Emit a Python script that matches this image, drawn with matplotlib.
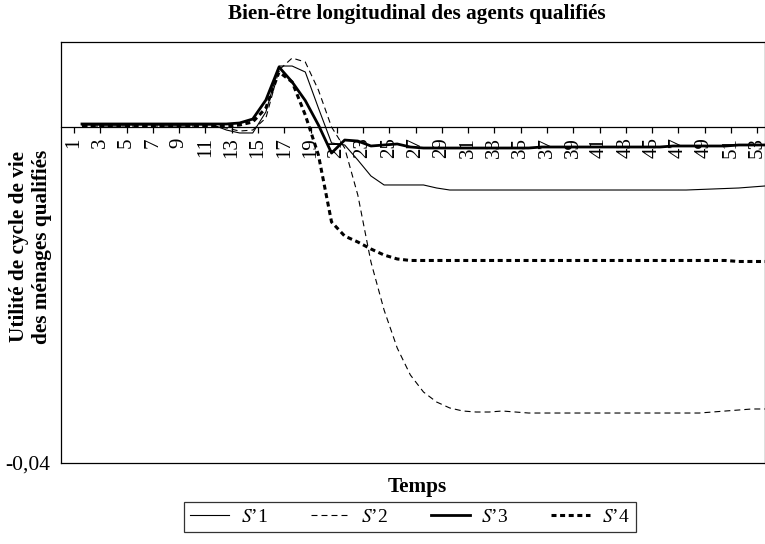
import numpy as np
import matplotlib
matplotlib.use('Agg')
from matplotlib import pyplot as plt

# periods 1..53, values
periods = list(range(1, 54))
tick_periods = list(range(1, 54, 2))
tick_labels = [str(p) for p in tick_periods]

s1 = [0.00024] * 11 + [
	-0.00036, -0.00071, -0.00071, 0.00179, 0.00726, 0.00726, 0.00655, 0.00226,
	-0.00190, -0.00214, -0.00393, -0.00583, -0.00690, -0.00690, -0.00690, -0.00690,
	-0.00726] + [-0.00750] * 19 + [
	-0.00744, -0.00738, -0.00732, -0.00726, -0.00714, -0.00702]

s2 = [0.00012] * 11 + [
	-0.00012, -0.00048, -0.00036, 0.00107, 0.00679, 0.00821, 0.00774, 0.00440,
	0.00000, -0.00250, -0.00810, -0.01607, -0.02179, -0.02631, -0.02952, -0.03155,
	-0.03274, -0.03345, -0.03381, -0.03393, -0.03393, -0.03381, -0.03393] + [-0.03405] * 14 + [
	-0.03393, -0.03381, -0.03369, -0.03357, -0.03357]

s3 = [0.00036] * 12 + [
	0.00048, 0.00095, 0.00321, 0.00714, 0.00536, 0.00315, 0.00024, -0.00310,
	-0.00155, -0.00167, -0.00226, -0.00214, -0.00202, -0.00238] + [-0.00250] * 9 + [-0.00238] * 10 + [
	-0.00226] * 5 + [-0.00214] * 3

s4 = [0.00012] * 12 + [
	0.00024, 0.00060, 0.00226, 0.00655, 0.00536, 0.00143, -0.00333, -0.01131,
	-0.01298, -0.01369, -0.01452, -0.01524, -0.01571] + [-0.01589] * 25 + [-0.01601] * 3

series_labels = ['$S$\u20191', '$S$\u20192', '$S$\u20193', '$S$\u20194']

plt.rcParams['font.family'] = 'Liberation Serif'
plt.rcParams['mathtext.fontset'] = 'stix'
plt.rcParams['lines.scale_dashes'] = False

fig = plt.figure(figsize=(7.65, 5.44), dpi=100)
ax = fig.add_axes([0.0797, 0.1489, 0.9203, 0.7748])

x = np.array(periods) + 0.6
l1, = ax.plot(x, s1, color='black', lw=0.8, zorder=3)
l2, = ax.plot(x, s2, color='black', lw=0.8, dashes=(4.3, 2.9), zorder=3)
l3, = ax.plot(x, s3, color='black', lw=2.0, zorder=3)
l4, = ax.plot(x, s4, color='black', lw=2.2, dashes=(3.6, 2.6), zorder=3)

ax.set_xlim(0, 53.6)
ax.set_ylim(-0.04, 0.01018)

# category axis sits on the zero line
ax.spines['bottom'].set_position(('data', 0))
for sp in ax.spines.values():
	sp.set_linewidth(0.9)
ax.axhline(-0.04, color='black', lw=0.9, clip_on=False)

ax.set_xticks(tick_periods)
ax.set_xticklabels(tick_labels, rotation=90, fontsize=15)
ax.tick_params(axis='x', direction='out', length=4.5, width=0.9, pad=3)
ax.set_yticks([-0.04])
ax.set_yticklabels(['-0,04'], fontsize=15.5)
ax.tick_params(axis='y', length=0, pad=8)

fig.text(0.545, 1 - 14 / 544, 'Bien-être longitudinal des agents qualifiés',
		 ha='center', va='center', fontsize=15.3, fontweight='bold')
fig.text(0.545, 1 - 487 / 544, 'Temps', ha='center', va='center', fontsize=15.3, fontweight='bold')
fig.text(0.040, 0.547, 'Utilité de cycle de vie\ndes ménages qualifiés', rotation=90,
		 ha='center', va='center', multialignment='center', fontsize=15.3, fontweight='bold',
		 linespacing=1.15)

fig.legend([l1, l2, l3, l4], series_labels, loc='center', bbox_to_anchor=(0.536, 0.0496),
		   ncol=4, frameon=True, fancybox=False, edgecolor='black', fontsize=14,
		   handlelength=2.0, handletextpad=0.6, columnspacing=2.2, borderpad=0.3)
fig.legends[0].get_frame().set_linewidth(0.9)

fig.savefig('out.png', dpi=100)
